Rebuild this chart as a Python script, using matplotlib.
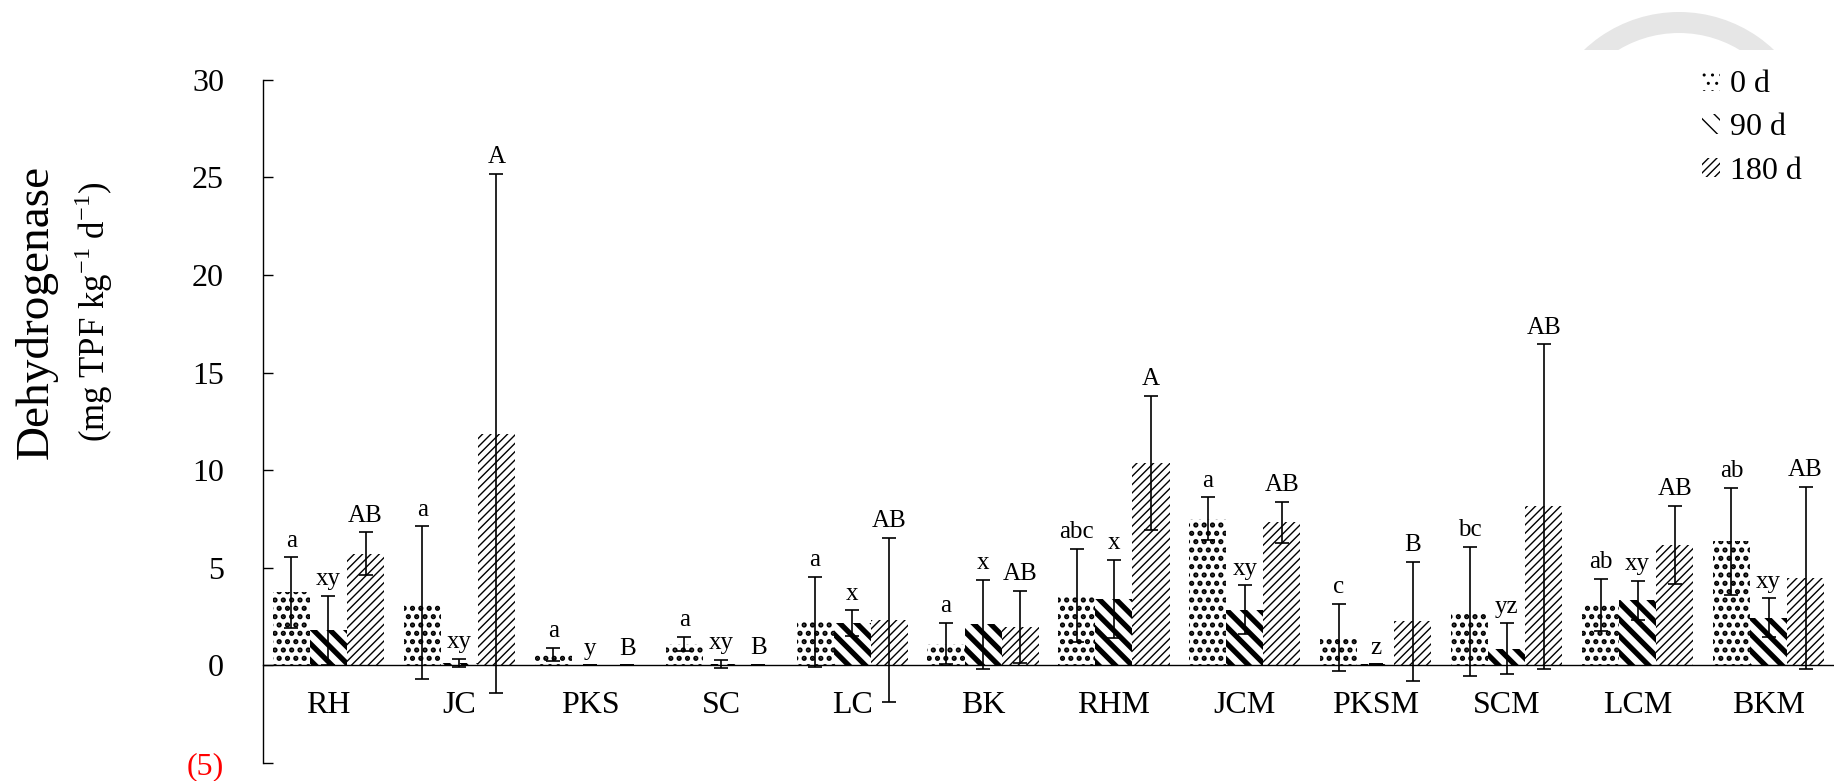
import matplotlib
matplotlib.use("Agg")
import matplotlib.pyplot as plt
from matplotlib.patches import Patch, Wedge
from matplotlib.transforms import IdentityTransform, Bbox
import numpy as np

plt.rcParams['font.family'] = ['Liberation Serif', 'DejaVu Serif']
plt.rcParams['mathtext.fontset'] = 'custom'
plt.rcParams['mathtext.rm'] = 'Liberation Serif'

# soil treatments along the x axis
categories = ['RH', 'JC', 'PKS', 'SC', 'LC', 'BK',
              'RHM', 'JCM', 'PKSM', 'SCM', 'LCM', 'BKM']
series = ['0 d', '90 d', '180 d']

# dehydrogenase (mg TPF kg-1 d-1), means
day0 = [3.74, 3.22, 0.55, 1.11, 2.22, 1.11, 3.58, 7.51, 1.42, 2.78, 3.11, 6.35]
day90 = [1.79, 0.12, 0.0, 0.09, 2.17, 2.10, 3.41, 2.85, 0.05, 0.85, 3.33, 2.44]
day180 = [5.72, 11.87, 0.0, 0.02, 2.34, 1.96, 10.36, 7.34, 2.27, 8.14, 6.19, 4.49]

# error bars (+/-)
err0 = [1.8, 3.9, 0.33, 0.35, 2.3, 1.06, 2.4, 1.1, 1.72, 3.3, 1.33, 2.73]
err90 = [1.78, 0.2, 0.0, 0.2, 0.65, 2.3, 2.0, 1.25, 0.0, 1.3, 1.0, 1.0]
err180 = [1.1, 13.3, 0.0, 0.0, 4.2, 1.85, 3.45, 1.05, 3.05, 8.3, 2.0, 4.65]

# significance letters
let0 = ['a', 'a', 'a', 'a', 'a', 'a', 'abc', 'a', 'c', 'bc', 'ab', 'ab']
let90 = ['xy', 'xy', 'y', 'xy', 'x', 'x', 'x', 'xy', 'z', 'yz', 'xy', 'xy']
let180 = ['AB', 'A', 'B', 'B', 'AB', 'AB', 'A', 'AB', 'B', 'AB', 'AB', 'AB']

yticks = [-5, 0, 5, 10, 15, 20, 25, 30]
yticklabels = ['(5)', '0', '5', '10', '15', '20', '25', '30']

hatches = ['..', '\\\\', '////']
hatch_lw = [2.5, 3.8, 1.0]


def main():
    fig = plt.figure(figsize=(18.34, 7.81), dpi=100)
    ax = fig.add_axes([0.1434, 0.023, 0.8566, 0.875])

    x = np.arange(len(categories))
    w = 0.283
    vals = [day0, day90, day180]
    errs = [err0, err90, err180]
    lets = [let0, let90, let180]

    for k in range(3):
        pos = x + (k - 1) * w
        bars = ax.bar(pos, vals[k], w, color='white', edgecolor='black',
                      linewidth=0, hatch=hatches[k], zorder=2)
        for b in bars:
            if hasattr(b, 'set_hatch_linewidth'):
                b.set_hatch_linewidth(hatch_lw[k])
        ax.errorbar(pos, vals[k], yerr=errs[k], fmt='none', ecolor='black',
                    elinewidth=1.2, capsize=5, capthick=1.2, zorder=3)
        for i in range(len(categories)):
            top = vals[k][i] + errs[k][i]
            ax.text(pos[i], top + 0.55, lets[k][i], ha='center',
                    va='baseline', fontsize=18)

    # category names under the zero line
    for i, c in enumerate(categories):
        ax.text(x[i], -2.05, c, ha='center', va='center', fontsize=23)

    ax.set_xlim(-0.5, 11.5)
    ax.set_ylim(-5, 30)
    ax.set_xticks([])
    ax.set_yticks(yticks)
    ax.set_yticklabels(yticklabels)
    ax.get_yticklabels()[0].set_color('red')
    ax.tick_params(axis='y', direction='in', length=7, width=1, pad=28,
                   labelsize=23)

    ax.spines['top'].set_visible(False)
    ax.spines['right'].set_visible(False)
    ax.spines['bottom'].set_position(('data', 0))
    ax.spines['left'].set_linewidth(1)
    ax.spines['bottom'].set_linewidth(1)
    ax.patch.set_alpha(0)

    # y axis title in two lines
    fig.text(0.0196, 0.6005, 'Dehydrogenase', rotation=90, ha='center',
             va='center', fontsize=34)
    fig.text(0.0513, 0.6005, r'(mg TPF kg$^{\mathrm{-1}}$ d$^{\mathrm{-1}}$)',
             rotation=90, ha='center', va='center', fontsize=25)

    handles = []
    for k in range(3):
        p = Patch(facecolor='white', edgecolor='black', linewidth=0,
                  hatch=hatches[k], label=series[k])
        if hasattr(p, 'set_hatch_linewidth'):
            p.set_hatch_linewidth(hatch_lw[k])
        handles.append(p)
    ax.legend(handles=handles, loc='upper left', frameon=False,
              bbox_to_anchor=(1702 / 1834, 1 - 70 / 781),
              bbox_transform=fig.transFigure, fontsize=23,
              handlelength=0.57, handleheight=0.57, handletextpad=0.3,
              labelspacing=0.45, borderpad=0, borderaxespad=0)

    # faint watermark arc at the top right, cut off by the chart area
    wm = Wedge((1679, 631), 138, 20, 160, width=21, transform=IdentityTransform(),
               facecolor='#e6e6e6', edgecolor='none', zorder=0)
    wm.set_clip_box(Bbox([[0, 731], [1834, 781]]))
    wm.set_figure(fig)
    fig.patches.append(wm)

    fig.savefig('out.png', dpi=100)


if __name__ == "__main__":
    main()
